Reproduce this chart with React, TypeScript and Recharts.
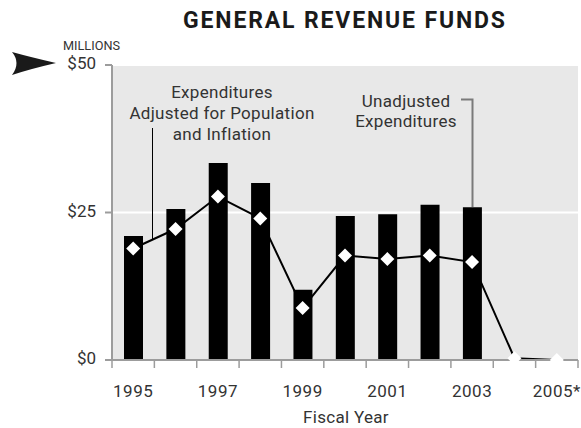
import React from 'react';
import {
  ComposedChart,
  Bar,
  Line,
  XAxis,
  YAxis,
  CartesianGrid,
} from 'recharts';

// fiscal years, values in millions of dollars
const years = ['1995', '1996', '1997', '1998', '1999', '2000', '2001', '2002', '2003', '2004', '2005*'];
const unadjusted = [21.0, 25.6, 33.4, 30.0, 11.9, 24.4, 24.7, 26.3, 25.9, null, null];
const adjusted = [18.9, 22.2, 27.7, 24.0, 8.8, 17.7, 17.1, 17.7, 16.6, 0.3, 0];
const yTicks = [0, 25, 50];

const W = 581;
const H = 428;
const PLOT_LEFT = 112;
const PLOT_RIGHT = 3;
const MARGIN_BOTTOM = 8;
const X_AXIS_H = 60;
const PLOT_BOTTOM = H - MARGIN_BOTTOM - X_AXIS_H;
const BAND = (W - PLOT_LEFT - PLOT_RIGHT) / years.length;
const AXIS = '#9c9c9c';
const TEXT = '#333';
const FONT = 'Roboto, "Liberation Sans", sans-serif';

const data = years.map((year, i) => ({
  year,
  unadjusted: unadjusted[i],
  adjusted: adjusted[i],
}));

// white diamond marker, cut off where it would hang below the plot floor
const Diamond = (props: any) => {
  const { cx, cy } = props;
  if (cx == null || cy == null) return null;
  const r = 7;
  const pts = [
    [cx, cy - r],
    [cx + r, cy],
    [cx, cy + r],
    [cx - r, cy],
  ];
  const out: number[][] = [];
  const B = PLOT_BOTTOM + 1;
  for (let i = 0; i < pts.length; i++) {
    const a = pts[i];
    const b = pts[(i + 1) % pts.length];
    const aIn = a[1] <= B;
    const bIn = b[1] <= B;
    if (aIn) out.push(a);
    if (aIn !== bIn) {
      const t = (B - a[1]) / (b[1] - a[1]);
      out.push([a[0] + t * (b[0] - a[0]), B]);
    }
  }
  if (out.length < 3) return null;
  return <polygon points={out.map((p) => p.join(',')).join(' ')} fill="#fff" />;
};

const YearTick = (props: any) => {
  const { x, y, payload, index } = props;
  const last = index === years.length - 1;
  return (
    <g>
      <line x1={x - BAND / 2} y1={y} x2={x - BAND / 2} y2={y + 8} stroke={AXIS} strokeWidth={1.5} />
      {last && <line x1={x + BAND / 2} y1={y} x2={x + BAND / 2} y2={y + 8} stroke={AXIS} strokeWidth={1.5} />}
      {index % 2 === 0 && (
        <text x={x} y={y + 37} textAnchor="middle" fill={TEXT} fontSize={17} fontFamily={FONT} letterSpacing={0.5}>
          {payload.value}
        </text>
      )}
    </g>
  );
};

export default function App() {
  return (
    <div style={{ position: 'absolute', left: 0, top: 0, width: W, height: H, background: '#fff' }}>
      <ComposedChart
        width={W}
        height={H}
        data={data}
        margin={{ top: 65, right: PLOT_RIGHT, bottom: MARGIN_BOTTOM, left: 62 }}
      >
        <CartesianGrid vertical={false} stroke="#fff" strokeWidth={2} fill="#e8e8e8" />
        <XAxis
          dataKey="year"
          interval={0}
          height={X_AXIS_H}
          tickSize={0}
          tickMargin={0}
          tick={<YearTick />}
          axisLine={{ stroke: AXIS, strokeWidth: 2 }}
        />
        <XAxis
          xAxisId="top"
          orientation="top"
          height={0}
          tick={false}
          tickLine={false}
          axisLine={{ stroke: AXIS, strokeWidth: 2 }}
        />
        <YAxis
          domain={[0, 50]}
          ticks={yTicks}
          width={50}
          tickSize={7}
          tickMargin={9}
          tickFormatter={(v: number) => `$${v}`}
          tick={{ fill: TEXT, fontSize: 17, fontFamily: FONT, dy: -2 }}
          tickLine={{ stroke: AXIS, strokeWidth: 2 }}
          axisLine={{ stroke: AXIS, strokeWidth: 2 }}
        />
        <YAxis
          yAxisId="right"
          orientation="right"
          width={0}
          tick={false}
          tickLine={false}
          axisLine={{ stroke: AXIS, strokeWidth: 2 }}
        />
        <Bar dataKey="unadjusted" fill="#000" barSize={19} isAnimationActive={false} />
        <Line
          type="linear"
          dataKey="adjusted"
          stroke="#000"
          strokeWidth={2}
          dot={<Diamond />}
          activeDot={false}
          isAnimationActive={false}
        />
      </ComposedChart>

      <svg
        width={W}
        height={H}
        style={{ position: 'absolute', left: 0, top: 0, pointerEvents: 'none' }}
        fontFamily={FONT}
      >
        <text x={344} y={28} textAnchor="middle" fontSize={23} fontWeight="bold" fill="#1a1a1a" textLength={322} lengthAdjust="spacing">
          GENERAL REVENUE FUNDS
        </text>
        <text x={63} y={50} fontSize={13} fill={TEXT} textLength={57} lengthAdjust="spacingAndGlyphs">
          MILLIONS
        </text>
        <path d="M12,52 Q30,57 56,63 Q30,69 12,75 Q21,63 12,52 Z" fill="#1a1a1a" />

        <g fontSize={17} fill={TEXT} textAnchor="middle" letterSpacing={0.3}>
          <text x={222} y={98}>Expenditures</text>
          <text x={222} y={119}>Adjusted for Population</text>
          <text x={222} y={140}>and Inflation</text>
          <text x={406} y={107}>Unadjusted</text>
          <text x={406} y={127}>Expenditures</text>
          <text x={346} y={423}>Fiscal Year</text>
        </g>
        <line x1={152.5} y1={128} x2={152.5} y2={239} stroke="#000" strokeWidth={1} />
        <polyline points="461,99.5 472.5,99.5 472.5,207" fill="none" stroke="#7a7a7a" strokeWidth={2} />
      </svg>
    </div>
  );
}
